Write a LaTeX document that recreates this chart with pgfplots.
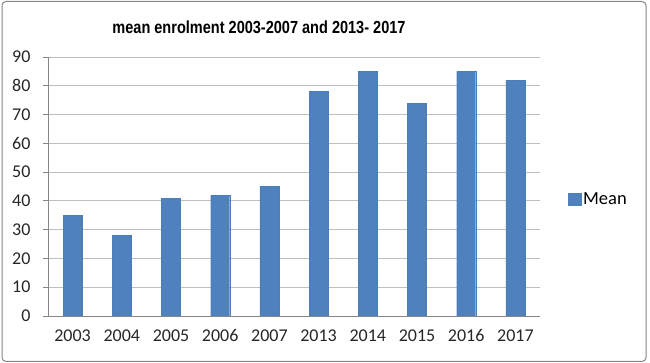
\documentclass[border=0pt]{standalone}
\usepackage{pgfplots}
\pgfplotsset{compat=1.18}
\usepackage{fontspec}
\setmainfont{Carlito}
\newfontfamily\titlefont{Liberation Sans}
\definecolor{barblue}{HTML}{4F81BD}
\definecolor{baredge}{HTML}{4A7EBB}
\definecolor{gridgray}{HTML}{BFBFBF}
\definecolor{axgray}{HTML}{868686}
\begin{document}
\begin{tikzpicture}
\useasboundingbox (0,0) rectangle (650pt,363pt);
\draw[axgray, line width=1pt, rounded corners=4pt] (2pt,1.5pt) rectangle (646pt,361.5pt);
\node[font=\titlefont\bfseries\fontsize{17.5}{20}\selectfont] at (259pt,336pt) {\scalebox{0.83}[1]{mean enrolment 2003-2007 and 2013- 2017}};
\begin{axis}[
  at={(48pt,47pt)}, anchor=south west,
  scale only axis, width=492pt, height=259pt,
  ymin=0, ymax=90, ytick={0,10,...,90},
  xmin=-0.5, xmax=9.5,
  xtick={0,...,9},
  xticklabels={2003,2004,2005,2006,2007,2013,2014,2015,2016,2017},
  minor xtick={-0.5,0.5,...,9.5},
  axis x line*=bottom, axis y line*=left,
  axis line style={axgray, line width=0.8pt, -},
  tick align=outside,
  major tick length=5pt, minor tick length=5pt,
  xtick style={draw=none},
  minor x tick style={axgray, line width=0.8pt},
  ytick style={axgray, line width=0.8pt},
  ymajorgrids, grid style={gridgray, line width=0.8pt},
  ticklabel style={font=\fontsize{18}{20}\selectfont, text=black!85},
  yticklabel style={xshift=-9pt},
  xticklabel style={yshift=-5pt},
  /pgf/number format/assume math mode=true,
  ybar, bar width=19pt,
  legend style={at={(1.057,0.452)}, anchor=west, draw=none, fill=none, font=\fontsize{18.5}{20}\selectfont, inner sep=0pt},
  legend image code/.code={\fill[barblue] (0pt,-6pt) rectangle (12.5pt,6pt);},
  legend cell align=left,
]
\addplot[fill=barblue, draw=baredge] coordinates {(0,35) (1,28) (2,41) (3,42) (4,45) (5,78) (6,85) (7,74) (8,85) (9,82)};
\legend{Mean}
\end{axis}
\end{tikzpicture}
\end{document}
